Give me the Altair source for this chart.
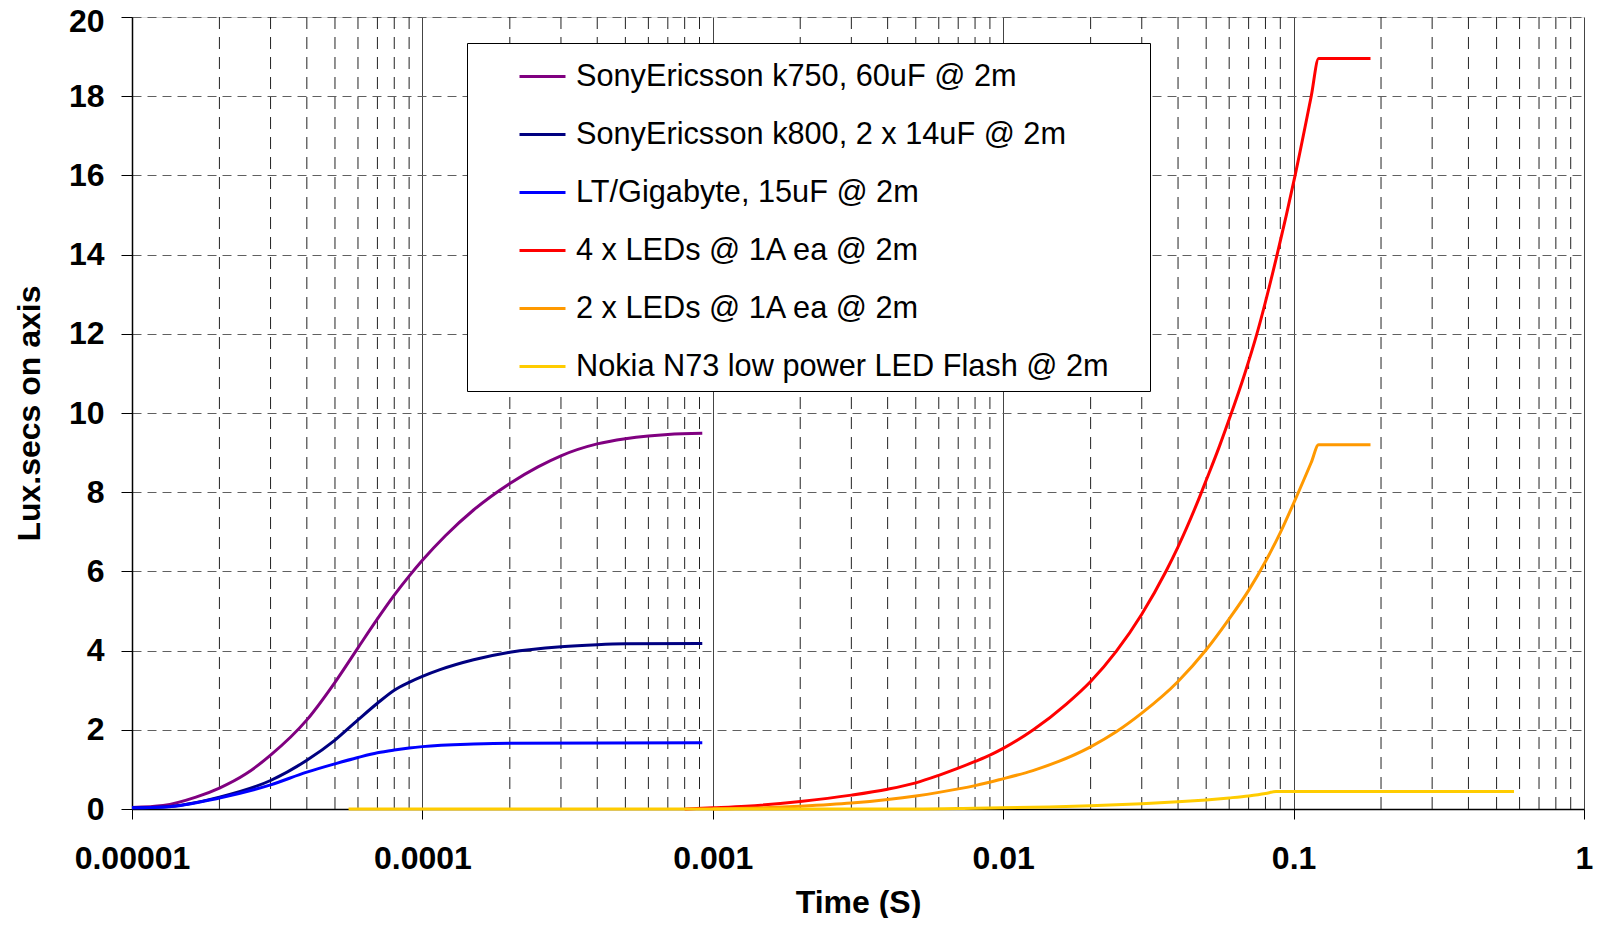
import altair as alt
import pandas as pd

FONT = "Liberation Sans"

series_names = [
    "SonyEricsson k750, 60uF @ 2m",
    "SonyEricsson k800, 2 x 14uF @ 2m",
    "LT/Gigabyte, 15uF @ 2m",
    "4 x LEDs @ 1A ea @ 2m",
    "2 x LEDs @ 1A ea @ 2m",
    "Nokia N73 low power LED Flash @ 2m",
]
series_colors = ["#800080", "#000080", "#0000FF", "#FF0000", "#FF9900", "#FFCC00"]

k750_t = [1e-5, 1.28e-5, 1.66e-5, 2e-5, 2.47e-5, 3e-5, 4e-5, 5e-5, 6e-5, 7e-5, 8e-5, 9e-5, 1e-4,
          1.2e-4, 1.5e-4, 2e-4, 2.5e-4, 3e-4, 4e-4, 5e-4, 6e-4, 7e-4, 9.2e-4]
k750_v = [0.04, 0.09, 0.3, 0.53, 0.89, 1.36, 2.25, 3.2, 4.07, 4.8, 5.4, 5.88, 6.28,
          6.9, 7.55, 8.22, 8.64, 8.92, 9.22, 9.35, 9.42, 9.46, 9.49]

k800_t = [1e-5, 1.28e-5, 2e-5, 3e-5, 4e-5, 5e-5, 6e-5, 7e-5, 8e-5, 9e-5, 1e-4, 1.15e-4,
          1.5e-4, 2e-4, 3e-4, 4e-4, 5e-4, 9.2e-4]
k800_v = [0.03, 0.05, 0.3, 0.72, 1.23, 1.74, 2.25, 2.67, 3.0, 3.2, 3.35, 3.52,
          3.77, 3.96, 4.1, 4.15, 4.17, 4.18]

lt_t = [1e-5, 1.3e-5, 2e-5, 3e-5, 4e-5, 5e-5, 6e-5, 7e-5, 8e-5, 9e-5, 1e-4, 1.5e-4, 2e-4, 9.2e-4]
lt_v = [0.03, 0.05, 0.28, 0.61, 0.93, 1.14, 1.3, 1.42, 1.49, 1.54, 1.575, 1.64, 1.66, 1.67]

led4_t = [8e-4, 0.001, 0.0013, 0.002, 0.003, 0.004, 0.005, 0.006, 0.007, 0.008, 0.009, 0.01,
          0.0127, 0.0165, 0.02, 0.0245, 0.03, 0.0364, 0.04, 0.0474, 0.05, 0.0556, 0.06,
          0.0678, 0.0747, 0.0875, 0.1012, 0.115, 0.122, 0.184]
led4_v = [0.0, 0.03, 0.07, 0.19, 0.35, 0.5, 0.66, 0.85, 1.03, 1.2, 1.36, 1.53,
          2.0, 2.65, 3.22, 3.98, 4.92, 6.01, 6.62, 7.87, 8.3, 9.17, 9.84,
          10.98, 11.99, 13.96, 16.0, 18.0, 18.95, 18.95]

led2_t = [0.001, 0.0015, 0.002, 0.003, 0.004, 0.005, 0.006, 0.008, 0.0097, 0.01265, 0.02,
          0.0245, 0.03, 0.04, 0.05, 0.06, 0.07, 0.08, 0.09, 0.1, 0.115, 0.122, 0.184]
led2_v = [0.0, 0.03, 0.07, 0.15, 0.24, 0.33, 0.42, 0.59, 0.74, 0.97, 1.57,
          1.95, 2.42, 3.22, 4.02, 4.8, 5.52, 6.25, 6.98, 7.72, 8.75, 9.2, 9.2]

n73_t = [5.57e-5, 0.005, 0.008, 0.0144, 0.02, 0.03, 0.04, 0.05, 0.06, 0.07, 0.08, 0.087, 0.574]
n73_v = [0.0, 0.0, 0.02, 0.05, 0.08, 0.13, 0.18, 0.23, 0.28, 0.33, 0.39, 0.44, 0.44]

x_tick_values = [1e-5, 1e-4, 1e-3, 1e-2, 1e-1, 1]
y_tick_values = [0, 2, 4, 6, 8, 10, 12, 14, 16, 18, 20]
minor_decades = [1e-5, 1e-4, 1e-3, 1e-2, 1e-1]
minor_multiples = [2, 3, 4, 5, 6, 7, 8, 9]

all_t = [k750_t, k800_t, lt_t, led4_t, led2_t, n73_t]
all_v = [k750_v, k800_v, lt_v, led4_v, led2_v, n73_v]

rows = []
for name, ts, vs in zip(series_names, all_t, all_v):
    for i, (t, v) in enumerate(zip(ts, vs)):
        rows.append({"series": name, "t": t, "v": v, "i": i})
df = pd.DataFrame(rows)
minor_df = pd.DataFrame({"t": [d * m for d in minor_decades for m in minor_multiples]})

x_scale = alt.Scale(type="log", domain=[1e-5, 1], nice=False)
y_scale = alt.Scale(domain=[0, 20], nice=False)

x_axis = alt.Axis(
    values=x_tick_values, format=".5~f", title="Time (S)",
    grid=True, gridColor="#444444", gridWidth=1, gridDash=[],
    domainColor="black", domainWidth=1.5,
    tickColor="black", tickSize=10, tickWidth=1,
    labelFont=FONT, labelFontSize=32, labelFontWeight="bold", labelColor="black",
    labelPadding=24, labelFlush=False, labelOverlap=False,
    titleFont=FONT, titleFontSize=32, titleFontWeight="bold", titleColor="black",
    titleBaseline="top", titleY=78,
)

minor = alt.Chart(minor_df).mark_rule(color="#222222", strokeWidth=1, strokeDash=[12, 8]).encode(
    x=alt.X("t:Q", scale=x_scale, axis=x_axis)
)

lines = alt.Chart(df).mark_line(strokeWidth=3, interpolate="monotone").encode(
    x=alt.X("t:Q", scale=x_scale, axis=x_axis),
    y=alt.Y(
        "v:Q",
        scale=y_scale,
        axis=alt.Axis(
            values=y_tick_values, title="Lux.secs on axis",
            grid=True, gridColor="#606060", gridWidth=1, gridDash=[9, 6],
            domainColor="black", domainWidth=1.5,
            tickColor="black", tickSize=11, tickWidth=1,
            labelFont=FONT, labelFontSize=32, labelFontWeight="bold", labelColor="black",
            labelPadding=17, labelFlush=False, labelOverlap=False,
            labelOffset=alt.condition("datum.value == 20", alt.value(4), alt.value(0)),
            titleFont=FONT, titleFontSize=32, titleFontWeight="bold", titleColor="black",
            titleAngle=270, titleAlign="center", titleBaseline="middle",
            titleX=-103, titleY=396,
        ),
    ),
    color=alt.Color(
        "series:N",
        sort=series_names,
        scale=alt.Scale(domain=series_names, range=series_colors),
        legend=alt.Legend(
            orient="none", legendX=335, legendY=26, title=None,
            labelFont=FONT, labelFontSize=30.7, labelColor="black", labelLimit=1000,
            labelOffset=9,
            labelExpr="datum.label + '\u00a0\u2800'",
            symbolType="stroke", symbolSize=2116, symbolStrokeWidth=3, symbolOffset=42,
            padding=9, rowPadding=18,
            fillColor="white", strokeColor="black",
        ),
    ),
    order=alt.Order("i:Q"),
)

chart = alt.layer(minor, lines).properties(
    width=1452,
    height=792,
    padding={"left": 124, "top": 9, "right": 10, "bottom": 109},
    autosize=alt.AutoSizeParams(type="none"),
).configure_view(stroke="black", strokeWidth=1).configure(background="white")

chart.save("out.html", embed_options={"renderer": "svg", "actions": False})
